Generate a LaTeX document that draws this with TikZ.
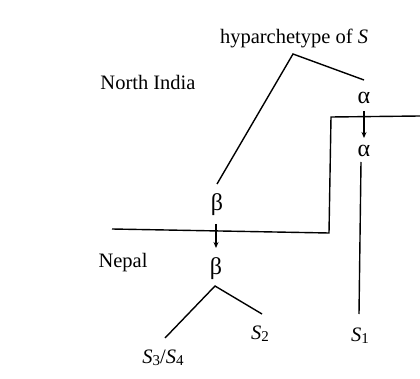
\documentclass[tikz,border=0pt]{standalone}
\usepackage{fontspec}
\setmainfont{Liberation Serif}
\usetikzlibrary{arrows.meta}
\newcommand{\msub}[1]{\raisebox{-0.12em}{\fontsize{15}{15}\selectfont #1}}
\begin{document}
\begin{tikzpicture}[x=1pt,y=-1pt,
  lbl/.style={anchor=base,inner sep=0pt,font=\fontsize{20.5}{24}\selectfont},
  grk/.style={lbl,font=\fontsize{24}{28}\selectfont},
  ln/.style={line width=1.4pt,line join=miter},
  arr/.style={line width=1.2pt,-{Stealth[length=6pt,width=5pt]}}]
\useasboundingbox (0,0) rectangle (420,379);
% labels
\node[lbl] (hyp) at (294,44) {hyparchetype of \textit{S}};
\node[lbl] (ni) at (148,90) {North India};
\node[lbl] (np) at (123,267) {Nepal};
\node[grk] (a1) at (364,104) {α};
\node[grk] (a2) at (364,157) {α};
\node[grk] (b1) at (217,211) {β};
\node[grk] (b2) at (216,274) {β};
\node[lbl] (s1) at (360,341) {\textit{S}\msub{1}};
\node[lbl] (s2) at (260,339) {\textit{S}\msub{2}};
\node[lbl] (s34) at (163,363) {\textit{S}\msub{3}/\textit{S}\msub{4}};
% coordinates
\coordinate (top) at (293,54);
\coordinate (topL) at (217,184);
\coordinate (topR) at (364,80);
\coordinate (arA1) at (364,111);
\coordinate (arA2) at (364,138);
\coordinate (aL1) at (361,162);
\coordinate (aL2) at (359,314);
\coordinate (arB1) at (216,224);
\coordinate (arB2) at (216,248);
\coordinate (bot) at (215,286);
\coordinate (botL) at (165,338);
\coordinate (botR) at (262,314);
\coordinate (bd1) at (112,229);
\coordinate (bd2) at (329,233);
\coordinate (bd3) at (331,117);
\coordinate (bd4) at (420,116);
% lines
\draw[ln] (topL) -- (top) -- (topR);
\draw[ln] (botL) -- (bot) -- (botR);
\draw[ln] (aL1) -- (aL2);
\draw[ln] (bd1) -- (bd2) -- (bd3) -- (bd4);
\draw[arr] (arA1) -- (arA2);
\draw[arr] (arB1) -- (arB2);
\end{tikzpicture}
\end{document}
